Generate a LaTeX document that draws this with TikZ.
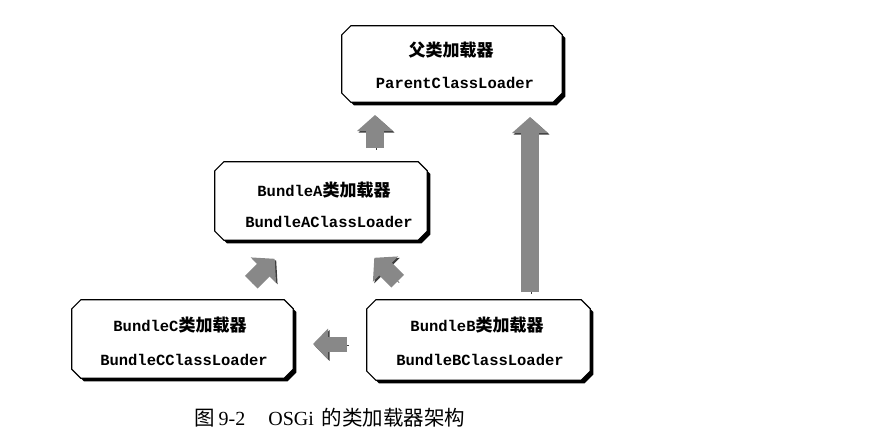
\documentclass[tikz,border=0pt]{standalone}
\usepackage{fontspec}
\setmainfont{Liberation Serif}
\newfontfamily\cjkf{Noto Sans CJK SC}
\newfontfamily\monof{Liberation Mono}
\usetikzlibrary{arrows.meta}
\definecolor{arrowgray}{HTML}{888888}
\definecolor{arrowdark}{HTML}{3C3C3C}
\newcommand{\cj}[1]{{\cjkf\bfseries\fontsize{17}{20}\selectfont #1}}
\newcommand{\cjc}[1]{{\cjkf\fontsize{20.5}{23}\selectfont #1}}
\newcommand{\chamfpath}[1]{([xshift=9pt]#1.north west) -- ([xshift=-9pt]#1.north east) --
  ([yshift=-9pt]#1.north east) -- ([yshift=9pt]#1.south east) --
  ([xshift=-9pt]#1.south east) -- ([xshift=9pt]#1.south west) --
  ([yshift=9pt]#1.south west) -- ([yshift=-9pt]#1.north west) -- cycle}
\newcommand{\chambox}[1]{%
  \fill[boxshadow] \chamfpath{#1};
  \draw[boxline] \chamfpath{#1};}
\begin{document}
\begin{tikzpicture}[x=1pt,y=-1pt,
  boxframe/.style={rectangle, draw=none, inner sep=0pt},
  boxline/.style={draw=black, line width=1.2pt, fill=white, line join=miter},
  boxshadow/.style={fill=black, transform canvas={shift={(3.2pt,-3.2pt)}}},
  cjktxt/.style={font=\cjkf\bfseries\fontsize{17}{20}\selectfont, inner sep=0pt},
  monotxt/.style={font=\monof\bfseries\fontsize{15.5}{18}\selectfont, inner sep=0pt},
  captxt/.style={font=\fontsize{20}{23}\selectfont, inner sep=0pt},
  blk/.style={line width=18pt, draw=arrowgray,
    -{Triangle[width=35pt,length=16pt]},
    preaction={draw=arrowdark, transform canvas={shift={(1.5pt,-1.5pt)}}}},
  blks/.style={line width=15pt, draw=arrowgray,
    -{Triangle[width=30pt,length=15pt]},
    preaction={draw=arrowdark, transform canvas={shift={(1.5pt,-1.5pt)}}}}
]
\fill[white] (0,0) rectangle (877,441);
\useasboundingbox (0,0) rectangle (877,441);

% boxes
\node[boxframe, minimum width=220pt, minimum height=76pt] (P) at (452,64) {};
\node[boxframe, minimum width=212pt, minimum height=78pt] (A) at (321,201) {};
\node[boxframe, minimum width=221pt, minimum height=78pt] (C) at (182.5,339) {};
\node[boxframe, minimum width=223pt, minimum height=80pt] (B) at (478.5,340) {};
\chambox{P}
\chambox{A}
\chambox{C}
\chambox{B}

% texts
\node[cjktxt] (P1) at (451,50) {父类加载器};
\node[monotxt] (P2) at (455,83) {ParentClassLoader};
\node[monotxt] (A1) at (324,190) {BundleA\cj{类加载器}};
\node[monotxt] (A2) at (329,222) {BundleAClassLoader};
\node[monotxt] (C1) at (180,325) {BundleC\cj{类加载器}};
\node[monotxt] (C2) at (184,360) {BundleCClassLoader};
\node[monotxt] (B1) at (477,325) {BundleB\cj{类加载器}};
\node[monotxt] (B2) at (480,360) {BundleBClassLoader};

% arrow end points
\coordinate (a1s) at (375,148);
\coordinate (a1e) at (375,115);
\coordinate (a2s) at (530,292);
\coordinate (a2e) at (530,117);
\coordinate (a3s) at (251.3,282.2);
\coordinate (a3e) at (274.7,258.8);
\coordinate (a4s) at (397.7,281.2);
\coordinate (a4e) at (374.3,257.8);
\coordinate (a5s) at (347,344);
\coordinate (a5e) at (313,344);

\draw[blk] (a1s) -- (a1e);
\draw[blk] (a2s) -- (a2e);
\draw[blk] (a3s) -- (a3e);
\draw[blk] (a4s) -- (a4e);
\draw[blks] (a5s) -- (a5e);

% caption
\node[captxt, anchor=west] (cap) at (194,418) {\cjc{图}\hspace{4pt}9-2\hspace{23pt}OSGi\hspace{8pt}\cjc{的类加载器架构}};
\end{tikzpicture}
\end{document}
